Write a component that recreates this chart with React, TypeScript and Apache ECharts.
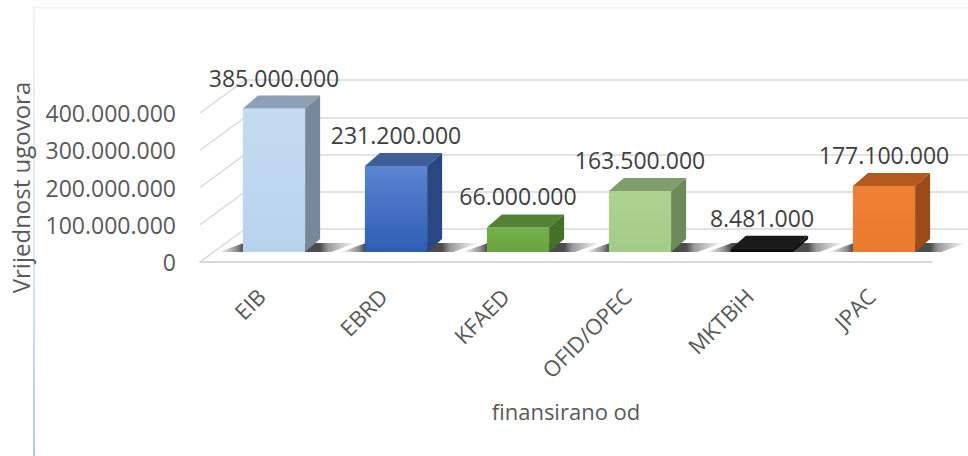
import React, { useEffect, useRef } from "react";
import * as echarts from "echarts";

const categories = ["EIB", "EBRD", "KFAED", "OFID/OPEC", "MKTBiH", "JPAC"];
const values = [385000000, 231200000, 66000000, 163500000, 8481000, 177100000];
const yTicks = [0, 100000000, 200000000, 300000000, 400000000];
const axisTitleX = "finansirano od";
const axisTitleY = "Vrijednost ugovora";

const palette = [
  { front: ["#c4dcf1", "#b8d3ec"], top: "#8ea0b5", side: "#768899" },
  { front: ["#5b85d1", "#2e5db4"], top: "#3f5e98", side: "#294782" },
  { front: ["#74b04b", "#69a440"], top: "#548235", side: "#45702a" },
  { front: ["#add391", "#a3cc87"], top: "#7f9e6b", side: "#6c8a59" },
  { front: ["#121212", "#0a0a0a"], top: "#1a1a1a", side: "#0d0d0d" },
  { front: ["#ef8136", "#ea7a2c"], top: "#b35b1f", side: "#9a4c18" },
];

const FONT = "Open Sans";
const fmt = (v: number) => String(Math.round(v)).replace(/\B(?=(\d{3})+(?!\d))/g, ".");

export default function App() {
  const ref = useRef<HTMLDivElement>(null);
  useEffect(() => {
    if (!ref.current) return;
    const chart = echarts.init(ref.current, undefined, { renderer: "svg" });
    const BAR_OX = 13, BAR_OY = -10;
    const DX = 15, DY = -13;
    const WALL_DX = 45, WALL_DY = -33;

    const option: any = {
      animation: false,
      backgroundColor: "#ffffff",
      graphic: [
        { type: "rect", shape: { x: 33, y: 7, width: 935, height: 1.5 }, style: { fill: "#eef2f9" }, silent: true },
        {
          type: "rect",
          shape: { x: 33, y: 7, width: 2, height: 449 },
          style: {
            fill: new echarts.graphic.LinearGradient(0, 0, 0, 1, [
              { offset: 0, color: "#eef2f9" },
              { offset: 0.55, color: "#dde6f5" },
              { offset: 1, color: "#b4c7e7" },
            ]),
          },
          silent: true,
        },
      ],
      grid: [
        { left: 200, right: 36, top: 113, bottom: 194 },
        { left: 245, right: 0, top: 80, bottom: 227 },
      ],
      xAxis: [
        {
          gridIndex: 0,
          type: "category",
          data: categories,
          axisLine: { lineStyle: { color: "#d9d9d9", width: 2 } },
          axisTick: { show: false },
          axisLabel: { rotate: 45, margin: 30, color: "#595959", fontSize: 22, fontFamily: FONT },
          name: axisTitleX,
          nameLocation: "middle",
          nameGap: 138,
          nameTextStyle: { color: "#595959", fontSize: 22, fontFamily: FONT },
        },
        { gridIndex: 1, type: "category", data: categories, show: false },
      ],
      yAxis: [
        {
          gridIndex: 0,
          type: "value",
          min: 0,
          max: 400000000,
          interval: 100000000,
          axisLine: { show: false },
          axisTick: { show: false },
          splitLine: { show: false },
          axisLabel: { formatter: (v: number) => fmt(v), margin: 24, color: "#595959", fontSize: 23, fontFamily: FONT },
          name: axisTitleY,
          nameLocation: "middle",
          nameGap: 168,
          nameRotate: 90,
          nameTextStyle: { color: "#595959", fontSize: 24, fontFamily: FONT },
        },
        {
          gridIndex: 1,
          type: "value",
          min: 0,
          max: 400000000,
          interval: 100000000,
          axisLine: { show: false },
          axisTick: { show: false },
          axisLabel: { show: false },
          splitLine: { lineStyle: { color: "#d9d9d9", width: 1.5 } },
        },
      ],
      series: [
        {
          type: "custom",
          name: "walls",
          xAxisIndex: 0,
          yAxisIndex: 0,
          silent: true,
          data: yTicks.map((v) => [0, v]),
          renderItem: (params: any, api: any) => {
            const p = api.coord([0, api.value(1)]);
            const band = api.size([1, 0])[0];
            const x0 = p[0] - band / 2;
            return {
              type: "line",
              shape: { x1: x0, y1: p[1], x2: x0 + WALL_DX, y2: p[1] + WALL_DY },
              style: { stroke: "#d9d9d9", lineWidth: 1.5 },
            };
          },
        },
        {
          type: "custom",
          name: "bars",
          xAxisIndex: 0,
          yAxisIndex: 0,
          silent: true,
          data: values.map((v, i) => [i, v]),
          renderItem: (params: any, api: any) => {
            const i = api.value(0);
            const v = api.value(1);
            const base = api.coord([i, 0]);
            const top = api.coord([i, v]);
            const band = api.size([1, 0])[0];
            const w = band * 0.51;
            const xl = base[0] + BAR_OX - w / 2;
            const xr = xl + w;
            const yb = base[1] + BAR_OY;
            const yt = top[1] + BAR_OY;
            const c = palette[i];
            const sx0 = xl - 24;
            const sx1 = xr + DX + 36;
            const shadowGrad = new echarts.graphic.LinearGradient(
              sx0, 0, sx1, 0,
              [
                { offset: 0, color: "rgba(0,0,0,0)" },
                { offset: (xl - 6 - sx0) / (sx1 - sx0), color: "rgba(0,0,0,0.45)" },
                { offset: (xl - sx0) / (sx1 - sx0), color: "rgba(0,0,0,0.7)" },
                { offset: (xr + DX - sx0) / (sx1 - sx0), color: "rgba(0,0,0,0.7)" },
                { offset: (xr + DX + 8 - sx0) / (sx1 - sx0), color: "rgba(0,0,0,0.4)" },
                { offset: 1, color: "rgba(0,0,0,0)" },
              ],
              true
            );
            return {
              type: "group",
              children: [
                {
                  type: "polygon",
                  shape: {
                    points: [
                      [sx0, yb],
                      [xr + 26, yb],
                      [sx1, yb + DY + 4],
                      [xl + DX - 14, yb + DY + 4],
                    ],
                  },
                  style: { fill: shadowGrad },
                },
                {
                  type: "rect",
                  shape: { x: xl, y: yt, width: w, height: Math.max(yb - yt, 0.5) },
                  style: {
                    fill: new echarts.graphic.LinearGradient(0, 0, 0, 1, [
                      { offset: 0, color: c.front[0] },
                      { offset: 1, color: c.front[1] },
                    ]),
                  },
                },
                {
                  type: "polygon",
                  shape: { points: [[xl, yt], [xr, yt], [xr + DX, yt + DY], [xl + DX, yt + DY]] },
                  style: { fill: c.top },
                },
                {
                  type: "polygon",
                  shape: { points: [[xr, yt], [xr + DX, yt + DY], [xr + DX, yb + DY], [xr, yb]] },
                  style: { fill: c.side },
                },
                {
                  type: "text",
                  style: {
                    text: fmt(v),
                    x: (xl + xr) / 2,
                    y: yt - 31,
                    align: "center",
                    verticalAlign: "middle",
                    fill: "#404040",
                    fontSize: 23,
                    fontFamily: FONT,
                  },
                },
              ],
            };
          },
        },
      ],
    };
    chart.setOption(option);
    return () => chart.dispose();
  }, []);
  return <div ref={ref} style={{ position: "fixed", left: 0, top: 0, width: 968, height: 456 }} />;
}
